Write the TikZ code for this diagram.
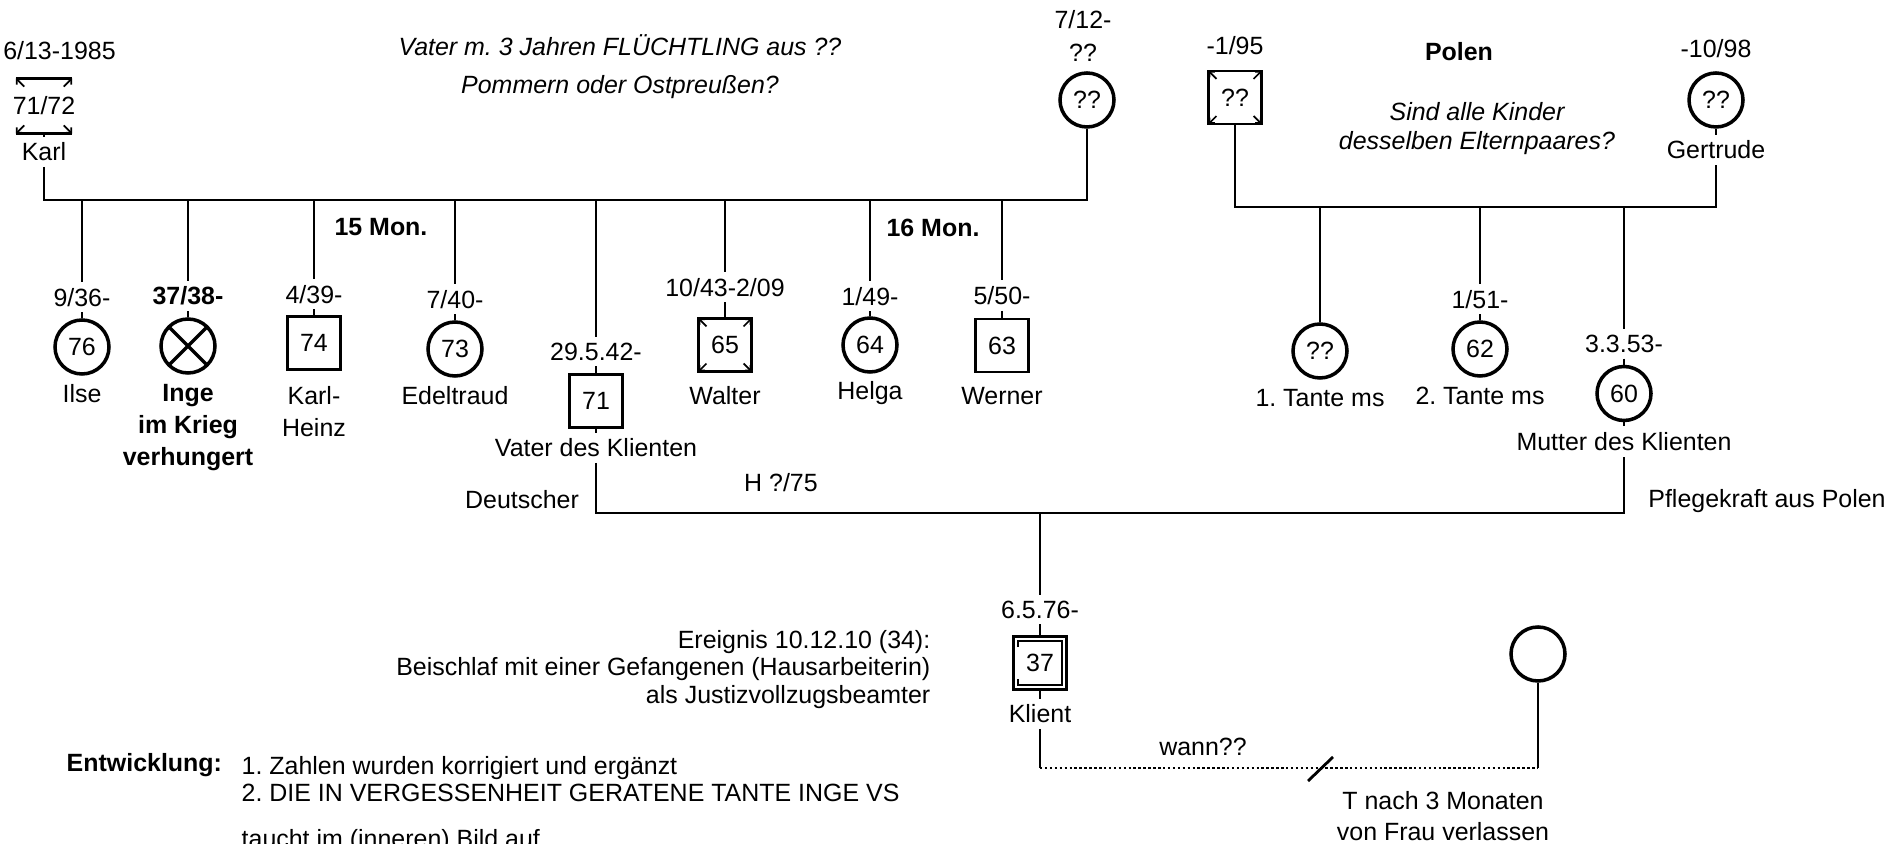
\documentclass[tikz,border=0pt]{standalone}
\usepackage{fontspec}
\setmainfont{Liberation Sans}
\usetikzlibrary{calc,positioning,arrows.meta}
\newcommand{\gsize}{\fontsize{7.1}{9}\selectfont}
\frenchspacing

\tikzset{
  fem/.style={circle,draw,line width=1pt,minimum size=5.4mm,inner sep=0pt},
  mal/.style={rectangle,draw,line width=0.7pt,minimum size=5.3mm,inner sep=0pt},
  ecke/.style={line width=0.5pt,-{Straight Barb[length=1.1pt,width=2.2pt]}},
  dead/.style={path picture={
      \foreach \ec in {north west,north east,south west,south east}
        \draw[ecke] ($(path picture bounding box.center)!0.7!(path picture bounding box.\ec)$)
          -- (path picture bounding box.\ec);}},
  lost/.style={path picture={
      \draw (path picture bounding box.north west) -- (path picture bounding box.south east)
            (path picture bounding box.north east) -- (path picture bounding box.south west);}},
  index/.style={mal,path picture={
      \draw[line width=0.6pt] ([shift={(1.4pt,-3pt)}]path picture bounding box.north west)
        |- ([shift={(-1.4pt,-1.4pt)}]path picture bounding box.north east)
        |- ([shift={(1.4pt,1.4pt)}]path picture bounding box.south west) -- ++(0,1.6pt);}},
  dat/.style={inner sep=1.5pt},
  nam/.style={inner sep=1.5pt,align=center},
  rel/.style={line width=0.6pt},
}

\begin{document}
\begin{tikzpicture}[font=\gsize,node distance=0.6mm]
  \useasboundingbox (0,0) rectangle (18.93,-8.44);
  \coordinate (kbar) at (0,-2.00);
  \coordinate (pbar) at (0,-2.07);
  \coordinate (mbar) at (0,-5.13);
  \coordinate (sbar) at (0,-7.68);

  % Grosseltern vaeterlicherseits
  \node[minimum width=5.5mm,minimum height=5.4mm,inner sep=0pt] (karl) at (0.44,-1.06) {};
  \draw[line width=0.7pt] (karl.north west) -- (karl.north east) (karl.south west) -- (karl.south east);
  \foreach \ec in {north west,north east,south west,south east}
    \draw[ecke] ($(karl.center)!0.7!(karl.\ec)$) -- (karl.\ec);
  \node (karl-z) at (karl) {71/72};
  \node (karl-d) at (0.595,-0.51) {6/13-1985};
  \node[nam,below=0.3mm of karl] (karl-n) {Karl};
  \node[fem] (oma) at (10.87,-1.00) {??};
  \node[align=center,font=\fontsize{7.1}{9.4}\selectfont] (oma-d) at (10.83,-0.36) {7/12-\\??};
  \node[font=\fontsize{7.1}{10.8}\selectfont\itshape,align=center] (flucht) at (6.20,-0.67)
    {Vater m. 3 Jahren FLÜCHTLING aus ??\\Pommern oder Ostpreußen?};

  % Kinder
  \node[fem] (ilse) at (0.82,-3.47) {76};
  \node[fem,lost] (inge) at (1.88,-3.46) {};
  \node[mal] (kh) at (3.14,-3.43) {74};
  \node[fem] (edel) at (4.55,-3.49) {73};
  \node[mal] (vater) at (5.96,-4.01) {71};
  \node[mal,dead] (walter) at (7.25,-3.45) {65};
  \node[fem] (helga) at (8.70,-3.45) {64};
  \node[mal] (werner) at (10.02,-3.455) {63};

  \node[dat,above=of ilse] (ilse-d) {9/36-};
  \node[dat,above=of inge,font=\gsize\bfseries] (inge-d) {37/38-};
  \node[dat,above=of kh] (kh-d) {4/39-};
  \node[dat,above=of edel] (edel-d) {7/40-};
  \node[dat,above=0.7mm of vater] (vater-d) {29.5.42-};
  \node[dat,above=1.5mm of walter] (walter-d) {10/43-2/09};
  \node[dat,above=0.5mm of helga] (helga-d) {1/49-};
  \node[dat,above=0.7mm of werner] (werner-d) {5/50-};

  \node[nam,below=0.3mm of ilse] (ilse-n) {Ilse};
  \node[nam,below=0.4mm of inge,font=\gsize\bfseries] (inge-n) {Inge\\im Krieg\\verhungert};
  \node[nam,below=1mm of kh] (kh-n) {Karl-\\Heinz};
  \node[nam,below=0.3mm of edel] (edel-n) {Edeltraud};
  \node[nam,below=0.4mm of vater] (vater-n) {Vater des Klienten};
  \node[nam,below=0.8mm of walter] (walter-n) {Walter};
  \node[nam,below=0.2mm of helga] (helga-n) {Helga};
  \node[nam,below=0.8mm of werner] (werner-n) {Werner};

  \node[font=\gsize\bfseries] (mon15) at (3.81,-2.27) {15 Mon.};
  \node[font=\gsize\bfseries] (mon16) at (9.33,-2.28) {16 Mon.};

  \draw[rel] (karl) -- (karl-n) (karl-n) -- (karl-n |- kbar) -| (oma);
  \foreach \k in {ilse,inge,kh,edel,vater,walter,helga,werner}
    \draw[rel] (\k |- kbar) -- (\k-d) (\k-d) -- (\k);

  % Grosseltern muetterlicherseits
  \node[mal,dead] (pole) at (12.35,-0.975) {??};
  \node[dat,above=0.9mm of pole] (pole-d) {-1/95};
  \node[fem] (gert) at (17.16,-1.00) {??};
  \node[dat,above=0.8mm of gert] (gert-d) {-10/98};
  \node[nam,below=0.6mm of gert] (gert-n) {Gertrude};
  \node[font=\gsize\bfseries] (polen) at (14.59,-0.52) {Polen};
  \node[font=\fontsize{7.1}{8.3}\selectfont\itshape,align=center] (frage) at (14.77,-1.285)
    {Sind alle Kinder\\desselben Elternpaares?};

  \node[fem] (t1) at (13.20,-3.51) {??};
  \node[fem] (t2) at (14.80,-3.49) {62};
  \node[fem] (mutter) at (16.24,-3.935) {60};
  \node[dat,above=of t2] (t2-d) {1/51-};
  \node[dat,above=of mutter] (mutter-d) {3.3.53-};
  \node[nam,below=0.4mm of t1] (t1-n) {1. Tante ms};
  \node[nam,below=0.3mm of t2] (t2-n) {2. Tante ms};
  \node[nam,below=0.4mm of mutter] (mutter-n) {Mutter des Klienten};

  \draw[rel] (pole) -- (pole |- pbar) -| (gert-n) (gert-n) -- (gert);
  \draw[rel] (t1 |- pbar) -- (t1);
  \foreach \k in {t2,mutter}
    \draw[rel] (\k |- pbar) -- (\k-d) (\k-d) -- (\k);

  % Eltern und Klient
  \draw[rel] (vater) -- (vater-n) (vater-n) -- (vater-n |- mbar) -| (mutter-n) (mutter-n) -- (mutter);
  \node (deutsch) at (5.22,-5.00) {Deutscher};
  \node (heirat) at (7.81,-4.83) {H ?/75};
  \node (pflege) at (17.67,-5.01) {Pflegekraft aus Polen};

  \node[index] (klient) at (10.40,-6.63) {37};
  \node[dat,above=1.1mm of klient] (klient-d) {6.5.76-};
  \node[nam,below=0.8mm of klient] (klient-n) {Klient};
  \node[fem] (frau) at (15.38,-6.54) {};
  \draw[rel] (klient |- mbar) -- (klient-d) (klient-d) -- (klient) (klient) -- (klient-n)
    (klient-n) -- (klient-n |- sbar);
  \draw[rel,dash pattern=on 0.7pt off 0.7pt] (klient-n |- sbar) -- (frau |- sbar);
  \draw[rel] (frau |- sbar) -- (frau);
  \coordinate (trenn) at (13.20,-7.69);
  \draw[line width=0.8pt] ($(trenn)+(-0.12,-0.12)$) -- ($(trenn)+(0.13,0.12)$);
  \node (wann) at (12.03,-7.47) {wann??};
  \node[align=center] (verl) at (14.43,-8.16) {T nach 3 Monaten\\von Frau verlassen};

  \node[align=right,anchor=east,inner sep=0pt,font=\fontsize{7.1}{7.7}\selectfont] (ereignis) at (9.31,-6.695)
    {Ereignis 10.12.10 (34):\\Beischlaf mit einer Gefangenen (Hausarbeiterin)\\als Justizvollzugsbeamter};

  % Entwicklung
  \node[font=\gsize\bfseries,anchor=west,inner sep=0pt] (entw) at (0.66,-7.65) {Entwicklung:};
  \node[align=left,anchor=north west,inner sep=0pt,font=\fontsize{7.1}{7.7}\selectfont] (liste) at (2.41,-7.56)
    {1. Zahlen wurden korrigiert und ergänzt\\2. DIE IN VERGESSENHEIT GERATENE TANTE INGE VS};
  \node[anchor=base west,inner sep=0pt] (liste3) at (2.41,-8.48) {taucht im (inneren) Bild auf};
\end{tikzpicture}
\end{document}
